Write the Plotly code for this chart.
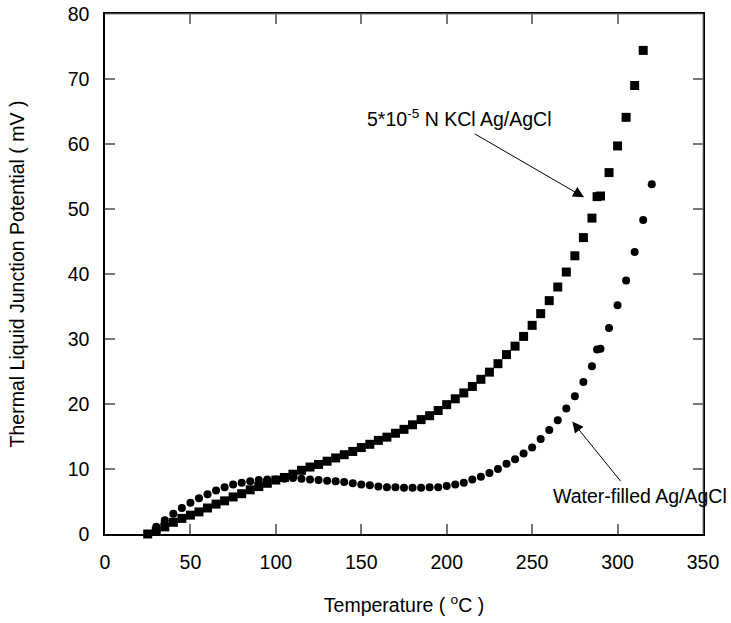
import plotly.graph_objects as go

# KCl-filled Ag/AgCl electrode (squares)
kcl_temp = [25, 30, 35, 40, 45, 50, 55, 60, 65, 70, 75, 80, 85, 90, 95, 100, 105, 110,
            115, 120, 125, 130, 135, 140, 145, 150, 155, 160, 165, 170, 175, 180, 185,
            190, 195, 200, 205, 210, 215, 220, 225, 230, 235, 240, 245, 250, 255, 260,
            265, 270, 275, 280, 285, 288, 290, 295, 300, 305, 310, 315]
kcl_mv = [0.0, 0.4, 1.1, 1.8, 2.4, 2.9, 3.4, 4.0, 4.6, 5.1, 5.7, 6.2, 6.8, 7.3, 7.8, 8.3, 8.7, 9.2,
          9.8, 10.3, 10.7, 11.2, 11.7, 12.2, 12.7, 13.3, 13.8, 14.4, 14.9, 15.5, 16.1, 16.8, 17.6,
          18.2, 19.0, 19.9, 20.8, 21.7, 22.7, 23.8, 24.9, 26.2, 27.6, 28.9, 30.4, 32.1, 33.9, 35.9,
          38.0, 40.3, 42.8, 45.6, 48.6, 51.9, 52.0, 55.6, 59.7, 64.1, 69.0, 74.4]

# Water-filled Ag/AgCl electrode (circles)
water_temp = [25, 30, 35, 40, 45, 50, 55, 60, 65, 70, 75, 80, 85, 90, 95, 100, 105, 110,
              115, 120, 125, 130, 135, 140, 145, 150, 155, 160, 165, 170, 175, 180, 185,
              190, 195, 200, 205, 210, 215, 220, 225, 230, 235, 240, 245, 250, 255, 260,
              265, 270, 275, 280, 285, 288, 290, 295, 300, 305, 310, 315, 320]
water_mv = [0.0, 1.1, 2.1, 3.1, 4.0, 4.8, 5.5, 6.1, 6.7, 7.2, 7.6, 7.9, 8.1, 8.3, 8.4, 8.4, 8.5, 8.6,
            8.5, 8.4, 8.3, 8.2, 8.1, 8.0, 7.8, 7.6, 7.5, 7.3, 7.2, 7.2, 7.1, 7.1, 7.1,
            7.2, 7.2, 7.4, 7.6, 7.9, 8.4, 8.8, 9.4, 10.0, 10.8, 11.5, 12.4, 13.3, 14.6, 16.0,
            17.5, 19.3, 21.2, 23.4, 25.8, 28.4, 28.5, 31.7, 35.2, 39.0, 43.4, 48.3, 53.8]

x_ticks = [0, 50, 100, 150, 200, 250, 300, 350]
y_ticks = [0, 10, 20, 30, 40, 50, 60, 70, 80]

FONT = "Liberation Sans, Arial, sans-serif"
FS = 19.5

fig = go.Figure()
fig.add_trace(go.Scatter(x=water_temp, y=water_mv, mode="markers",
                         marker=dict(symbol="circle", size=8, color="black"),
                         cliponaxis=False, showlegend=False))
fig.add_trace(go.Scatter(x=kcl_temp, y=kcl_mv, mode="markers",
                         marker=dict(symbol="square", size=9, color="black"),
                         cliponaxis=False, showlegend=False))

fig.add_annotation(x=280.4, y=51.8, ax=215.5, ay=61.7, xref="x", yref="y",
                   axref="x", ayref="y", text="", showarrow=True,
                   arrowhead=2, arrowsize=2.2, arrowwidth=1, arrowcolor="black")
fig.add_annotation(x=273.5, y=17.3, ax=302.5, ay=7.9, xref="x", yref="y",
                   axref="x", ayref="y", text="", showarrow=True,
                   arrowhead=2, arrowsize=2.2, arrowwidth=1, arrowcolor="black")
fig.add_annotation(x=207, y=64.0, xref="x", yref="y", showarrow=False,
                   text="5*10<sup>-5</sup> N KCl Ag/AgCl",
                   font=dict(family=FONT, size=FS, color="black"))
fig.add_annotation(x=1.043, y=5.8, xref="paper", yref="y", showarrow=False,
                   xanchor="right",
                   text="Water-filled Ag/AgCl",
                   font=dict(family=FONT, size=FS, color="black"))

# gray top & right frame lines
fig.add_shape(type="line", xref="paper", yref="paper", x0=0, x1=1, y0=1, y1=1,
              line=dict(color="#888888", width=1), layer="above")
fig.add_shape(type="line", xref="paper", yref="paper", x0=1, x1=1, y0=0, y1=1,
              line=dict(color="#888888", width=1), layer="above")

fig.update_xaxes(range=[0, 350], tickvals=x_ticks, ticks="inside", ticklen=10,
                 tickcolor="#777777", tickwidth=1.5, showline=True, linecolor="black",
                 linewidth=1.5, mirror="ticks", showgrid=False, zeroline=False,
                 automargin=False,
                 tickfont=dict(family=FONT, size=FS, color="black"),
                 ticklabelstandoff=10,
                 title=dict(text="Temperature ( <sup>o</sup>C )", standoff=26,
                            font=dict(family=FONT, size=FS, color="black")))
fig.update_yaxes(range=[0, 80], tickvals=y_ticks, ticks="inside", ticklen=10,
                 tickcolor="#777777", tickwidth=1.5, showline=True, linecolor="black",
                 linewidth=1.5, mirror="ticks", showgrid=False, zeroline=False,
                 automargin=False,
                 tickfont=dict(family=FONT, size=FS, color="black"),
                 ticklabelstandoff=10,
                 title=dict(text="Thermal Liquid Junction Potential ( mV )", standoff=38,
                            font=dict(family=FONT, size=FS, color="black")))

fig.update_layout(width=731, height=623, plot_bgcolor="white", paper_bgcolor="white",
                  margin=dict(l=105, r=28, t=14, b=89))

# remove the browser's default 8px body margin so the figure fills the window exactly
fig.write_html("out.html", config={"displayModeBar": False},
               post_script="document.body.style.margin='0';document.body.style.overflow='hidden';")
